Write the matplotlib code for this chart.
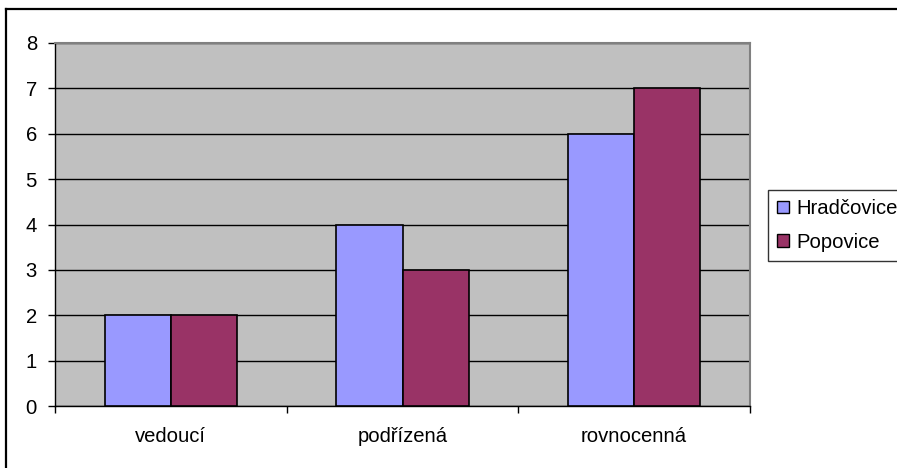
import matplotlib
matplotlib.use("Agg")
import matplotlib.pyplot as plt
from matplotlib.lines import Line2D
from matplotlib.patches import Patch
import numpy as np

categories = ["vedoucí", "podřízená", "rovnocenná"]
series_names = ["Hradčovice", "Popovice"]
hradcovice = [2, 4, 6]
popovice = [2, 3, 7]
y_ticks = [0, 1, 2, 3, 4, 5, 6, 7, 8]

colors = ["#9999FF", "#993366"]

plt.rcParams["font.family"] = ["Liberation Sans", "DejaVu Sans"]
FS = 14.6

W, H, DPI = 897, 468, 100
fig = plt.figure(figsize=(W / DPI, H / DPI), dpi=DPI)

# outer chart border: only the top and left edges fall inside the canvas
top_y = 1 - 9 / H
left_x = 6 / W
fig.add_artist(Line2D([left_x, 1.05], [top_y, top_y], transform=fig.transFigure,
                      color="black", linewidth=1.6, solid_capstyle="projecting"))
fig.add_artist(Line2D([left_x, left_x], [-0.05, top_y], transform=fig.transFigure,
                      color="black", linewidth=1.6, solid_capstyle="projecting"))

ax = fig.add_axes([55 / W, (H - 406) / H, 695 / W, 363 / H])
ax.set_facecolor("#C0C0C0")

x = np.arange(len(categories))
bw = 1 / 3.5
ax.bar(x - bw / 2, hradcovice, width=bw, color=colors[0], edgecolor="black", linewidth=1.2, zorder=3)
ax.bar(x + bw / 2, popovice, width=bw, color=colors[1], edgecolor="black", linewidth=1.2, zorder=3)

ax.set_xlim(-0.5, len(categories) - 0.5)
ax.set_ylim(y_ticks[0], y_ticks[-1])
ax.set_yticks(y_ticks)
ax.set_yticklabels([str(t) for t in y_ticks], fontsize=FS)
ax.yaxis.grid(True, color="black", linewidth=1.0, zorder=1)
ax.set_axisbelow(True)

ax.set_xticks(x)
ax.set_xticklabels(categories, fontsize=FS)
ax.tick_params(axis="x", which="major", length=0, pad=15)
ax.set_xticks(np.arange(len(categories) + 1) - 0.5, minor=True)
ax.tick_params(axis="x", which="minor", length=5, width=1, direction="out", color="black")
ax.tick_params(axis="y", length=5, width=1, direction="out", pad=8, color="black")

for side in ["top", "right"]:
    ax.spines[side].set_color("#808080")
    ax.spines[side].set_linewidth(1.5)
for side in ["left", "bottom"]:
    ax.spines[side].set_color("black")
    ax.spines[side].set_linewidth(1.0)

handles = [Patch(facecolor=c, edgecolor="black", linewidth=1.0) for c in colors]
leg = fig.legend(handles, series_names, loc="upper left",
                 bbox_to_anchor=(768 / W, 1 - 190 / H), bbox_transform=fig.transFigure,
                 fontsize=FS, frameon=True, fancybox=False, borderpad=0.45,
                 handlelength=0.6, handleheight=0.6, handletextpad=0.35,
                 labelspacing=0.72, borderaxespad=0)
leg.get_frame().set_edgecolor("black")
leg.get_frame().set_linewidth(1.0)

fig.savefig("out.png", dpi=DPI)
